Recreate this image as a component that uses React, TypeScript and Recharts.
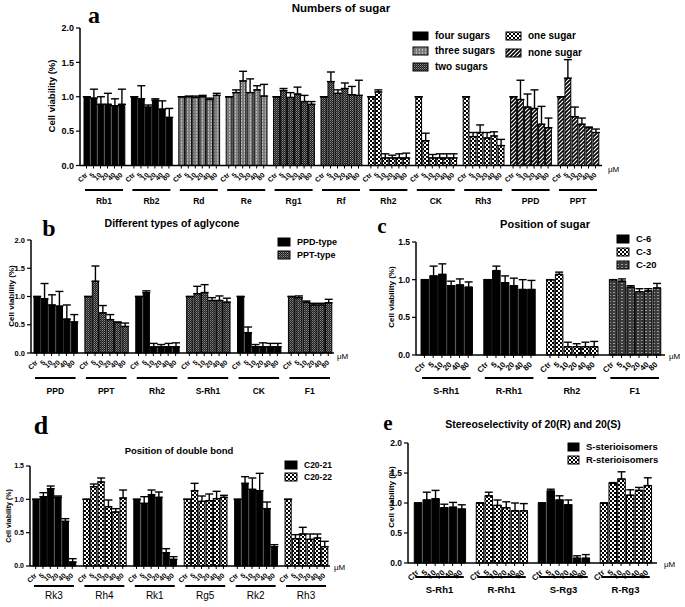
import React from 'react';
import { BarChart, Bar, XAxis, YAxis, ErrorBar, Cell } from 'recharts';

const doses = ['Ctr', '5', '10', '20', '40', '80'];

// a: numbers of sugar
const aGroups = ['Rb1', 'Rb2', 'Rd', 'Re', 'Rg1', 'Rf', 'Rh2', 'CK', 'Rh3', 'PPD', 'PPT'];
const aKinds = ['four', 'four', 'three', 'three', 'two', 'two', 'one', 'one', 'one', 'none', 'none'];
const aMean = [
  [1.0, 0.98, 0.89, 0.89, 0.87, 0.89],
  [1.0, 0.97, 0.85, 0.95, 0.82, 0.7],
  [1.0, 1.0, 0.99, 1.0, 0.96, 1.02],
  [1.0, 1.06, 1.23, 1.06, 1.1, 1.01],
  [1.0, 1.09, 0.99, 1.04, 0.93, 0.89],
  [1.0, 1.22, 1.05, 1.12, 1.03, 1.02],
  [1.0, 1.07, 0.11, 0.11, 0.11, 0.11],
  [1.0, 0.36, 0.11, 0.11, 0.11, 0.11],
  [1.0, 0.42, 0.48, 0.4, 0.43, 0.29],
  [1.0, 0.96, 0.85, 0.83, 0.6, 0.55],
  [1.0, 1.27, 0.71, 0.6, 0.55, 0.48],
];
const aTop = [
  [1.0, 1.11, 1.0, 1.05, 0.97, 1.11],
  [1.0, 1.16, 0.88, 0.97, 0.94, 0.83],
  [1.0, 1.01, 1.01, 1.02, 0.98, 1.05],
  [1.0, 1.1, 1.37, 1.26, 1.16, 1.18],
  [1.0, 1.12, 1.06, 1.14, 1.02, 0.93],
  [1.0, 1.36, 1.1, 1.2, 1.15, 1.24],
  [1.0, 1.1, 0.17, 0.15, 0.17, 0.18],
  [1.0, 0.47, 0.16, 0.17, 0.17, 0.17],
  [1.0, 0.48, 0.59, 0.48, 0.49, 0.38],
  [1.0, 1.24, 1.04, 1.1, 0.86, 0.69],
  [1.0, 1.54, 0.85, 0.69, 0.56, 0.53],
];

// b: aglycone
const bGroups = ['PPD', 'PPT', 'Rh2', 'S-Rh1', 'CK', 'F1'];
const bKinds = ['ppd', 'ppt', 'ppd', 'ppt', 'ppd', 'ppt'];
const bMean = [
  [1.0, 0.96, 0.85, 0.83, 0.6, 0.55],
  [1.0, 1.27, 0.71, 0.59, 0.54, 0.47],
  [1.0, 1.07, 0.11, 0.11, 0.11, 0.11],
  [1.0, 1.05, 1.07, 0.93, 0.93, 0.9],
  [1.0, 0.36, 0.11, 0.11, 0.11, 0.11],
  [1.0, 0.98, 0.9, 0.85, 0.85, 0.89],
];
const bTop = [
  [1.0, 1.23, 1.03, 1.09, 0.85, 0.68],
  [1.0, 1.54, 0.84, 0.68, 0.55, 0.53],
  [1.0, 1.1, 0.17, 0.15, 0.17, 0.18],
  [1.0, 1.18, 1.21, 0.98, 1.01, 0.97],
  [1.0, 0.46, 0.15, 0.18, 0.17, 0.17],
  [1.0, 1.01, 0.92, 0.88, 0.88, 0.95],
];

// c: position of sugar
const cGroups = ['S-Rh1', 'R-Rh1', 'Rh2', 'F1'];
const cKinds = ['c6', 'c6', 'c3', 'c20'];
const cMean = [
  [1.0, 1.05, 1.07, 0.92, 0.93, 0.9],
  [1.0, 1.12, 0.96, 0.92, 0.87, 0.87],
  [1.0, 1.07, 0.11, 0.11, 0.11, 0.11],
  [1.0, 0.98, 0.9, 0.84, 0.85, 0.89],
];
const cTop = [
  [1.0, 1.18, 1.21, 0.98, 1.01, 0.97],
  [1.0, 1.18, 1.05, 1.02, 1.0, 0.99],
  [1.0, 1.1, 0.17, 0.15, 0.17, 0.18],
  [1.0, 1.01, 0.92, 0.88, 0.88, 0.95],
];

// d: double bond
const dGroups = ['Rk3', 'Rh4', 'Rk1', 'Rg5', 'Rk2', 'Rh3'];
const dKinds = ['c2021', 'c2022', 'c2021', 'c2022', 'c2021', 'c2022'];
const dMean = [
  [1.0, 1.04, 1.16, 1.03, 0.67, 0.06],
  [1.0, 1.19, 1.26, 0.89, 0.81, 1.02],
  [1.0, 0.94, 1.07, 1.03, 0.2, 0.1],
  [1.0, 1.13, 0.97, 0.98, 1.01, 1.03],
  [1.0, 1.24, 1.15, 1.13, 0.86, 0.29],
  [1.0, 0.41, 0.48, 0.4, 0.42, 0.29],
];
const dTop = [
  [1.0, 1.1, 1.2, 1.05, 0.71, 0.11],
  [1.0, 1.23, 1.32, 0.99, 0.86, 1.14],
  [1.0, 1.04, 1.14, 1.11, 0.26, 0.14],
  [1.0, 1.24, 1.05, 1.08, 1.12, 1.06],
  [1.0, 1.34, 1.32, 1.39, 0.96, 0.32],
  [1.0, 0.47, 0.58, 0.48, 0.48, 0.37],
];

// e: stereoselectivity
const eGroups = ['S-Rh1', 'R-Rh1', 'S-Rg3', 'R-Rg3'];
const eKinds = ['s', 'r', 's', 'r'];
const eMean = [
  [1.0, 1.05, 1.07, 0.92, 0.93, 0.9],
  [1.0, 1.12, 0.96, 0.92, 0.87, 0.87],
  [1.0, 1.2, 1.05, 0.97, 0.08, 0.08],
  [1.0, 1.33, 1.4, 1.13, 1.21, 1.29],
];
const eTop = [
  [1.0, 1.18, 1.21, 0.98, 1.01, 0.97],
  [1.0, 1.18, 1.05, 1.02, 1.0, 0.99],
  [1.0, 1.23, 1.12, 1.05, 0.12, 0.14],
  [1.0, 1.34, 1.52, 1.22, 1.26, 1.42],
];

const FILL: Record<string, string> = {
  four: '#000', three: 'url(#pGray)', two: 'url(#pTwo)', one: 'url(#pCheck)', none: 'url(#pDiag)',
  ppd: '#000', ppt: 'url(#pTwo)',
  c6: '#000', c3: 'url(#pCheck)', c20: 'url(#pGrid)',
  c2021: '#000', c2022: 'url(#pCheck)',
  s: '#000', r: 'url(#pCheck)',
};

function buildRows(groups: string[], kinds: string[], mean: number[][], top: number[][], pitch: number) {
  const rows: any[] = [];
  groups.forEach((g, gi) => {
    mean[gi].forEach((v, di) => {
      rows.push({ x: +(gi * pitch + di).toFixed(3), v, e: [0, Math.max(0, top[gi][di] - v)], kind: kinds[gi], group: g, di });
    });
  });
  return rows;
}

function Panel({ cfg }: { cfg: any }) {
  const rows = buildRows(cfg.groups, cfg.kinds, cfg.mean, cfg.top, cfg.pitch);
  const n = cfg.groups.length;
  const dMin = -0.5 - cfg.pad;
  const dMax = (n - 1) * cfg.pitch + 5.5 + cfg.pad;
  const unit = (cfg.x1 - cfg.x0) / (dMax - dMin);
  const byX = new Map(rows.map((r) => [r.x.toFixed(3), r]));

  const tick = (p: any) => {
    const r = byX.get(Number(p.payload.value).toFixed(3));
    if (!r) return <g />;
    const ay = p.y - 3;
    return (
      <g>
        <text transform={`translate(${p.x + 1.5},${ay + 10}) rotate(-45)`} textAnchor="end"
          fontSize={cfg.doseSize} fontWeight="bold" fill="#000">{doses[r.di]}</text>
        {r.di === 0 && (
          <g>
            <line x1={p.x - unit / 2 + 2} x2={p.x + 5.5 * unit - 2} y1={ay + cfg.ulDy} y2={ay + cfg.ulDy} stroke="#000" strokeWidth={2} />
            <text x={p.x + 2.5 * unit} y={ay + cfg.lblDy} textAnchor="middle" dominantBaseline="central"
              fontSize={cfg.lblSize} fontWeight={cfg.lblBold ? 'bold' : 'normal'} fill="#000">{r.group}</text>
          </g>
        )}
      </g>
    );
  };

  return (
    <div style={{ position: 'absolute', left: 0, top: 0 }}>
      <BarChart width={685} height={607} data={rows}
        margin={{ top: cfg.yTop, left: cfg.x0 - 30, right: 685 - cfg.x1, bottom: 607 - cfg.yBot - 30 }}>
        <XAxis type="number" dataKey="x" domain={[dMin, dMax]} ticks={rows.map((r) => r.x)} interval={0}
          height={30} tickSize={3} tickMargin={0} allowDataOverflow
          axisLine={{ stroke: '#000', strokeWidth: 1.5 }} tickLine={{ stroke: '#000', strokeWidth: 1 }} tick={tick} />
        <YAxis domain={[0, cfg.yMax]} ticks={cfg.yTicks} width={30} tickSize={4} interval={0}
          tickFormatter={(v: number) => v.toFixed(1)}
          tick={{ fontSize: cfg.yTickSize, fontWeight: 'bold', fill: '#000' }}
          axisLine={{ stroke: '#000', strokeWidth: 1.5 }} tickLine={{ stroke: '#000', strokeWidth: 1.2 }} />
        <Bar dataKey="v" barSize={unit - 1.2} stroke="#000" strokeWidth={1} isAnimationActive={false}>
          {rows.map((r, i) => <Cell key={i} fill={FILL[r.kind]} />)}
          <ErrorBar dataKey="e" direction="y" width={4} stroke="#000" strokeWidth={1.4} />
        </Bar>
      </BarChart>
    </div>
  );
}

const panels = [
  { groups: aGroups, kinds: aKinds, mean: aMean, top: aTop, x0: 80, x1: 602, yTop: 28, yBot: 165.5, yMax: 2,
    yTicks: [0, 0.5, 1, 1.5, 2], pitch: 6.77, pad: 0.43, ulDy: 24.5, lblDy: 35, lblSize: 8.5, lblBold: true, doseSize: 7, yTickSize: 9 },
  { groups: bGroups, kinds: bKinds, mean: bMean, top: bTop, x0: 31, x1: 334, yTop: 240, yBot: 353, yMax: 2,
    yTicks: [0, 0.5, 1, 1.5, 2], pitch: 6.85, pad: 0.27, ulDy: 25, lblDy: 38, lblSize: 8.5, lblBold: true, doseSize: 7, yTickSize: 7.5 },
  { groups: cGroups, kinds: cKinds, mean: cMean, top: cTop, x0: 416, x1: 665, yTop: 242, yBot: 355, yMax: 1.5,
    yTicks: [0, 0.5, 1, 1.5], pitch: 7.16, pad: 0.46, ulDy: 23, lblDy: 36, lblSize: 9, lblBold: true, doseSize: 8, yTickSize: 8.5 },
  { groups: dGroups, kinds: dKinds, mean: dMean, top: dTop, x0: 30, x1: 330, yTop: 466, yBot: 566, yMax: 1.5,
    yTicks: [0, 0.5, 1, 1.5], pitch: 6.88, pad: 0.27, ulDy: 20, lblDy: 29, lblSize: 10, lblBold: false, doseSize: 7, yTickSize: 7 },
  { groups: eGroups, kinds: eKinds, mean: eMean, top: eTop, x0: 408, x1: 657, yTop: 443, yBot: 563, yMax: 2,
    yTicks: [0, 0.5, 1, 1.5, 2], pitch: 7.08, pad: 0.6, ulDy: 14, lblDy: 26, lblSize: 9.5, lblBold: true, doseSize: 8, yTickSize: 8.5 },
];

function T({ x, y, size, children, bold = true, serif = false, rot = 0, left = false }: any) {
  return (
    <div style={{
      position: 'absolute', left: x, top: y, whiteSpace: 'nowrap', lineHeight: 1, fontSize: size,
      fontWeight: bold ? 'bold' : 'normal', fontFamily: serif ? '"Liberation Serif", "DejaVu Serif", serif' : undefined,
      transform: `translate(${left ? '0' : '-50%'},-50%) rotate(${rot}deg)`, transformOrigin: left ? 'left center' : 'center',
    }}>{children}</div>
  );
}

function Key({ x, y, kind, label, size, w = 14, h = 8 }: any) {
  return (
    <div style={{ position: 'absolute', left: x, top: y - h / 2, display: 'flex', alignItems: 'center', whiteSpace: 'nowrap' }}>
      <svg width={w + 2} height={h + 2} style={{ display: 'block' }}>
        <rect x={1} y={1} width={w} height={h} fill={FILL[kind]} stroke="#000" strokeWidth={1} />
      </svg>
      <span style={{ marginLeft: 6, fontSize: size, fontWeight: 'bold', lineHeight: 1 }}>{label}</span>
    </div>
  );
}

export default function App() {
  return (
    <div style={{ position: 'relative', width: 685, height: 607, background: '#fff', color: '#000',
      fontFamily: '"Liberation Sans", Arial, sans-serif', overflow: 'hidden' }}>
      <style>{'body{margin:0}'}</style>
      <svg width={0} height={0} style={{ position: 'absolute' }}>
        <defs>
          <pattern id="pGray" width={3} height={3} patternUnits="userSpaceOnUse">
            <rect width={3} height={3} fill="#7c7c7c" />
            <rect x={1} width={1} height={2} fill="#b8b8b8" />
          </pattern>
          <pattern id="pTwo" width={2} height={2} patternUnits="userSpaceOnUse">
            <rect width={2} height={2} fill="#1e1e1e" />
            <rect width={1} height={1} fill="#8c8c8c" />
            <rect x={1} y={1} width={1} height={1} fill="#5a5a5a" />
          </pattern>
          <pattern id="pCheck" width={4} height={4} patternUnits="userSpaceOnUse">
            <rect width={4} height={4} fill="#000" />
            <rect width={2} height={2} fill="#fff" />
            <rect x={2} y={2} width={2} height={2} fill="#fff" />
          </pattern>
          <pattern id="pDiag" width={4} height={4} patternUnits="userSpaceOnUse">
            <rect width={4} height={4} fill="#000" />
            <path d="M-1,1 l2,-2 M0,4 l4,-4 M3,5 l2,-2" stroke="#fff" strokeWidth={1.2} />
          </pattern>
          <pattern id="pGrid" width={4} height={3} patternUnits="userSpaceOnUse">
            <rect width={4} height={3} fill="#3c3c3c" />
            <rect x={1} y={1} width={2} height={1} fill="#9a9a9a" />
          </pattern>
        </defs>
      </svg>

      {panels.map((cfg, i) => <Panel key={i} cfg={cfg} />)}

      {/* titles and panel letters */}
      <T x={341} y={9} size={11.5}>Numbers of sugar</T>
      <T x={94} y={15} size={24} serif>a</T>
      <T x={172} y={223} size={10.5}>Different types of aglycone</T>
      <T x={49} y={228} size={24} serif>b</T>
      <T x={545} y={224} size={11}>Position of sugar</T>
      <T x={382} y={226} size={21} serif>c</T>
      <T x={179} y={451} size={9.5}>Position of double bond</T>
      <T x={41} y={426} size={26} serif>d</T>
      <T x={533} y={424} size={10.5}>Stereoselectivity of 20(R) and 20(S)</T>
      <T x={388} y={423} size={21} serif>e</T>

      {/* y-axis titles */}
      <T x={52} y={96} size={9.5} rot={-90}>Cell viability (%)</T>
      <T x={12} y={296} size={8} rot={-90}>Cell viability (%)</T>
      <T x={392} y={297} size={8} rot={-90}>Cell viability (%)</T>
      <T x={8} y={516} size={7} rot={-90}>Cell viability (%)</T>
      <T x={392} y={497} size={8} rot={-90}>Cell viability (%)</T>

      {/* unit labels */}
      <T x={608} y={170} size={8} left bold={false}>μM</T>
      <T x={337} y={357} size={8} left bold={false}>μM</T>
      <T x={669} y={357} size={8} left bold={false}>μM</T>
      <T x={334} y={568} size={8} left bold={false}>μM</T>
      <T x={664} y={565} size={8} left bold={false}>μM</T>

      {/* legends */}
      <Key x={412} y={35} kind="four" label="four sugars" size={10} w={15} />
      <Key x={412} y={50} kind="three" label="three sugars" size={10} w={15} />
      <Key x={412} y={66} kind="two" label="two sugars" size={10} w={15} />
      <Key x={505} y={35} kind="one" label="one sugar" size={10} w={15} />
      <Key x={505} y={52} kind="none" label="none sugar" size={10} w={15} />

      <Key x={277} y={241} kind="ppd" label="PPD-type" size={9} w={12} />
      <Key x={277} y={254} kind="ppt" label="PPT-type" size={9} w={12} />

      <Key x={616} y={238} kind="c6" label="C-6" size={9.5} w={12} />
      <Key x={616} y={251} kind="c3" label="C-3" size={9.5} w={12} />
      <Key x={616} y={264} kind="c20" label="C-20" size={9.5} w={12} />

      <Key x={284} y={464} kind="c2021" label="C20-21" size={8.5} w={12} />
      <Key x={284} y={476} kind="c2022" label="C20-22" size={8.5} w={12} />

      <Key x={567} y={446} kind="s" label="S-sterioisomers" size={9.5} w={11} />
      <Key x={567} y={459} kind="r" label="R-sterioisomers" size={9.5} w={11} />
    </div>
  );
}
